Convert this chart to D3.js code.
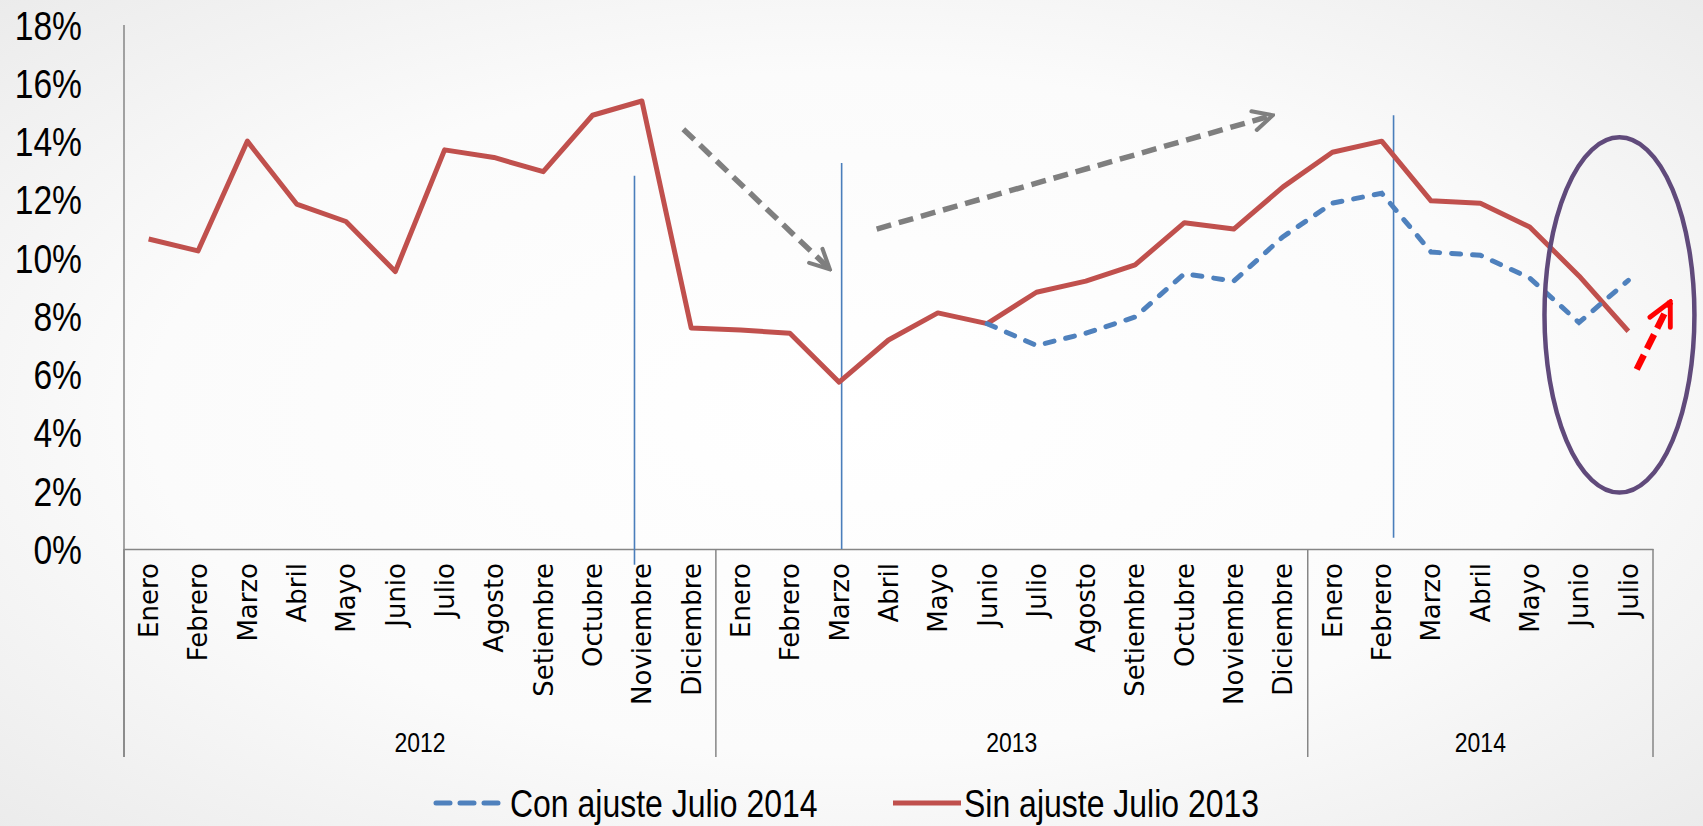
<!DOCTYPE html>
<html>
<head>
<meta charset="utf-8">
<script src="https://cdn.jsdelivr.net/npm/d3@7"></script>
<style>
  body { margin: 0; overflow: hidden; background: #fff; }
</style>
</head>
<body>
<div id="d3_wrapper"></div>
<script>
// Meses y años del eje X
const meses = ["Enero", "Febrero", "Marzo", "Abril", "Mayo", "Junio", "Julio", "Agosto", "Setiembre", "Octubre", "Noviembre", "Diciembre"]
const anios = ["2012", "2013", "2014"]
const mesesPorAnio = [12, 12, 7]

// Series (en %)
const sinAjuste = [10.65, 10.24, 14.01, 11.85, 11.25, 9.53, 13.71, 13.45, 12.96, 14.9, 15.39, 7.59,
                   7.52, 7.41, 5.73, 7.18, 8.11, 7.74, 8.82, 9.2, 9.76, 11.21, 10.99, 12.44,
                   13.63, 14.01, 11.96, 11.88, 11.06, 9.38, 7.48]
const conAjuste = [null, null, null, null, null, null, null, null, null, null, null, null,
                   null, null, null, null, null, 7.74, 6.99, 7.41, 7.97, 9.46, 9.2, 10.73,
                   11.88, 12.22, 10.2, 10.09, 9.31, 7.78, 9.23]

// Marcas del eje Y
const yTicks = [0, 2, 4, 6, 8, 10, 12, 14, 16, 18]

// Anotaciones en coordenadas del gráfico (índice de mes, %)
const lineasVerticales = [
    { i: 9.85, top: 12.82, bottom: -0.54 },
    { i: 14.05, top: 13.26, bottom: 0 },
    { i: 25.24, top: 14.9, bottom: 0.39 }
]
const flechasGrises = [
    { i1: 10.84, v1: 14.42, i2: 13.81, v2: 9.61 },
    { i1: 14.76, v1: 10.99, i2: 22.79, v2: 14.9 }
]
const flechaRoja = { i1: 30.17, v1: 6.17, i2: 30.85, v2: 8.49 }
const elipse = { i: 29.82, v: 8.04, ri: 1.52, rv: 6.1 }

function drawGraphic() {
    const W = 1703, H = 826
    const left = 124, right = 1653, y0 = 549, y18 = 25
    const axisBottom = 757
    // Letra estrecha tipo Calibri: Liberation Sans comprimida en horizontal
    const narrowFont = "'Liberation Sans', Arial, sans-serif"
    const narrow = 0.82

    const categorias = []
    anios.forEach((a, k) => {
        for (let m = 0; m < mesesPorAnio[k]; m++) categorias.push({ anio: a, mes: meses[m] })
    })
    const n = categorias.length

    const svg = d3.select("#d3_wrapper").append("svg")
        .attr("width", W).attr("height", H)

    // Fondo con degradado suave
    const defs = svg.append("defs")
    const grad = defs.append("radialGradient").attr("id", "fondo")
        .attr("cx", "50%").attr("cy", "50%").attr("r", "75%")
    grad.append("stop").attr("offset", "0%").attr("stop-color", "#ffffff")
    grad.append("stop").attr("offset", "55%").attr("stop-color", "#fbfbfb")
    grad.append("stop").attr("offset", "100%").attr("stop-color", "#e9e9e9")
    svg.append("rect").attr("width", W).attr("height", H).attr("fill", "url(#fondo)")

    // Marcadores de flecha
    function marker(id, color) {
        defs.append("marker").attr("id", id)
            .attr("viewBox", "0 0 10 10").attr("refX", 9).attr("refY", 5)
            .attr("markerWidth", 4.4).attr("markerHeight", 4.4)
            .attr("markerUnits", "strokeWidth")
            .attr("orient", "auto")
            .append("path").attr("d", "M1,1 L9,5 L1,9")
            .attr("fill", "none").attr("stroke", color)
            .attr("stroke-width", 1.7).attr("stroke-linecap", "round")
    }
    marker("flechaGris", "#7f7f7f")
    marker("flechaRoja", "#ff0000")

    // Escalas
    const x = d3.scaleBand().domain(d3.range(n)).range([left, right])
    const xi = d3.scaleLinear().domain([-0.5, n - 0.5]).range([left, right])
    const y = d3.scaleLinear().domain([0, 18]).range([y0, y18])

    // Eje Y
    svg.append("line").attr("x1", left).attr("x2", left)
        .attr("y1", y(18)).attr("y2", axisBottom)
        .attr("stroke", "#868686").attr("stroke-width", 1.5)
    svg.append("g").selectAll("text").data(yTicks).join("text")
        .attr("transform", d => "translate(82," + y(d) + ") scale(" + narrow + ",1)")
        .attr("dy", "0.36em")
        .attr("text-anchor", "end")
        .style("font-family", narrowFont)
        .style("font-size", "41px").attr("fill", "#000")
        .text(d => d + "%")

    // Eje X (meses)
    const gx = svg.append("g").attr("transform", "translate(0," + y0 + ")")
        .call(d3.axisBottom(x).tickSize(0).tickFormat(i => categorias[i].mes))
    gx.select(".domain").attr("stroke", "#868686").attr("stroke-width", 1.5)
    gx.selectAll("text")
        .attr("transform", "rotate(-90)")
        .attr("x", -14).attr("y", 0).attr("dy", "0.36em")
        .attr("text-anchor", "end")
        .style("font-family", "'DejaVu Sans', Verdana, sans-serif")
        .style("font-size", "26px").attr("fill", "#000")

    // Separadores y etiquetas de año
    let acum = 0
    const limites = [0]
    mesesPorAnio.forEach(c => { acum += c; limites.push(acum) })
    svg.append("g").selectAll("line").data(limites).join("line")
        .attr("x1", d => xi(d - 0.5)).attr("x2", d => xi(d - 0.5))
        .attr("y1", y0).attr("y2", axisBottom)
        .attr("stroke", "#868686").attr("stroke-width", 1.5)
    svg.append("g").selectAll("text").data(anios).join("text")
        .attr("transform", (d, k) => "translate(" +
            (xi(limites[k] - 0.5) + xi(limites[k + 1] - 0.5)) / 2 + ",742) scale(" + narrow + ",1)")
        .attr("dy", "0.36em").attr("text-anchor", "middle")
        .style("font-family", narrowFont)
        .style("font-size", "28px").attr("fill", "#000")
        .text(d => d)

    // Líneas verticales de referencia
    svg.append("g").selectAll("line").data(lineasVerticales).join("line")
        .attr("x1", d => xi(d.i)).attr("x2", d => xi(d.i))
        .attr("y1", d => y(d.top)).attr("y2", d => y(d.bottom))
        .attr("stroke", "#4a7ebb").attr("stroke-width", 1.6)

    // Series
    const line = d3.line()
        .defined(d => d != null)
        .x((d, i) => x(i) + x.bandwidth() / 2)
        .y(d => y(d))

    svg.append("path").datum(sinAjuste)
        .attr("fill", "none").attr("stroke", "#c0504d")
        .attr("stroke-width", 5).attr("stroke-linejoin", "round")
        .attr("d", line)

    svg.append("path").datum(conAjuste)
        .attr("fill", "none").attr("stroke", "#4f81bd")
        .attr("stroke-width", 5).attr("stroke-linecap", "round")
        .attr("stroke-dasharray", "9,12")
        .attr("d", line)

    // Flechas grises
    svg.append("g").selectAll("line").data(flechasGrises).join("line")
        .attr("x1", d => xi(d.i1)).attr("y1", d => y(d.v1))
        .attr("x2", d => xi(d.i2)).attr("y2", d => y(d.v2))
        .attr("stroke", "#7f7f7f").attr("stroke-width", 5.5)
        .attr("stroke-dasharray", "15,8")
        .attr("marker-end", "url(#flechaGris)")

    // Elipse
    svg.append("ellipse")
        .attr("cx", xi(elipse.i)).attr("cy", y(elipse.v))
        .attr("rx", xi(elipse.i + elipse.ri) - xi(elipse.i))
        .attr("ry", y(0) - y(elipse.rv))
        .attr("fill", "none").attr("stroke", "#604a7b").attr("stroke-width", 4.5)

    // Flecha roja
    svg.append("line")
        .attr("x1", xi(flechaRoja.i1)).attr("y1", y(flechaRoja.v1))
        .attr("x2", xi(flechaRoja.i2)).attr("y2", y(flechaRoja.v2))
        .attr("stroke", "#ff0000").attr("stroke-width", 6.5)
        .attr("stroke-dasharray", "16,7")
        .attr("marker-end", "url(#flechaRoja)")

    // Leyenda
    const ley = svg.append("g").attr("transform", "translate(0,803)")
    ley.append("line").attr("x1", 436).attr("x2", 500).attr("y1", 0).attr("y2", 0)
        .attr("stroke", "#4f81bd").attr("stroke-width", 5)
        .attr("stroke-linecap", "round").attr("stroke-dasharray", "14,10")
    ley.append("line").attr("x1", 893).attr("x2", 961).attr("y1", 0).attr("y2", 0)
        .attr("stroke", "#c0504d").attr("stroke-width", 5)
    ley.selectAll("text").data([
        { x: 510, t: "Con ajuste Julio 2014" },
        { x: 964, t: "Sin ajuste Julio 2013" }
    ]).join("text")
        .attr("transform", d => "translate(" + d.x + ",0) scale(" + narrow + ",1)")
        .attr("dy", "0.36em")
        .style("font-family", narrowFont)
        .style("font-size", "39px").attr("fill", "#000")
        .text(d => d.t)
}

window.addEventListener("load", drawGraphic)
</script>
</body>
</html>
